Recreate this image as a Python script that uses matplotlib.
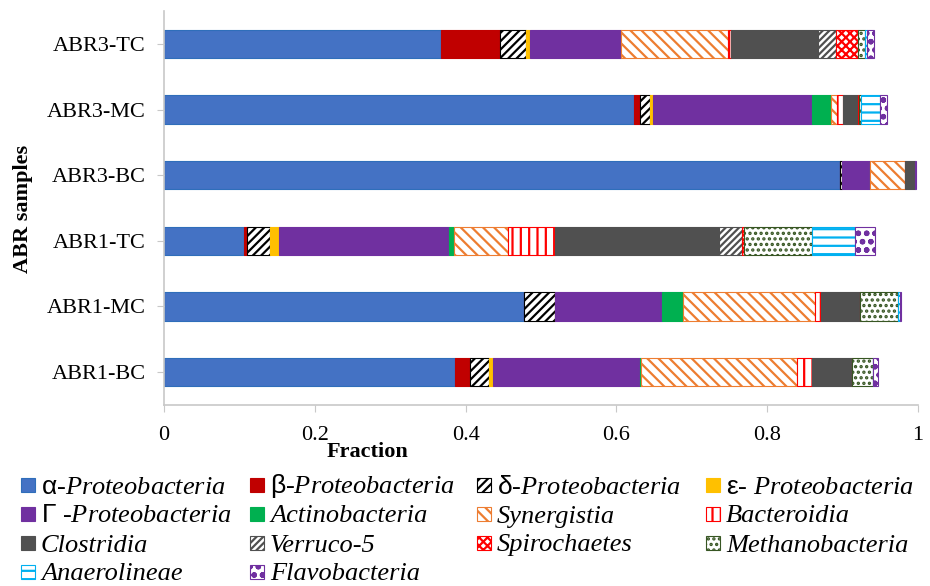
import numpy as np
import matplotlib
matplotlib.use("Agg")
import matplotlib.pyplot as plt
from matplotlib.patches import Rectangle

plt.rcParams['font.family'] = 'Liberation Serif'
plt.rcParams['mathtext.fontset'] = 'custom'
plt.rcParams['mathtext.rm'] = 'Liberation Sans'
plt.rcParams['mathtext.it'] = 'Liberation Serif:italic'
plt.rcParams['hatch.linewidth'] = 1.6

samples = ['ABR1-BC', 'ABR1-MC', 'ABR1-TC', 'ABR3-BC', 'ABR3-MC', 'ABR3-TC']

# greek prefixes are set upright sans via mathtext, the rest italic serif
taxa = [r'$\mathrm{α}$-Proteobacteria', r'$\mathrm{β}$-Proteobacteria',
        r'$\mathrm{δ}$-Proteobacteria', r'$\mathrm{ε}$- Proteobacteria',
        r'$\mathrm{Γ}$ -Proteobacteria', 'Actinobacteria',
        'Synergistia', 'Bacteroidia',
        'Clostridia', 'Verruco-5',
        'Spirochaetes', 'Methanobacteria',
        'Anaerolineae', 'Flavobacteria']

# fraction of each class, same order as taxa
abr1_bc = [0.386, 0.020, 0.025, 0.005, 0.195, 0.002, 0.207, 0.019, 0.053, 0.0, 0.0, 0.028, 0.0, 0.007]
abr1_mc = [0.477, 0.001, 0.040, 0.001, 0.141, 0.028, 0.175, 0.009, 0.051, 0.0, 0.0, 0.051, 0.002, 0.001]
abr1_tc = [0.106, 0.004, 0.031, 0.011, 0.226, 0.007, 0.071, 0.063, 0.217, 0.031, 0.002, 0.091, 0.056, 0.027]
abr3_bc = [0.896, 0.0, 0.003, 0.0, 0.037, 0.001, 0.046, 0.0, 0.013, 0.0, 0.0, 0.0, 0.0, 0.002]
abr3_mc = [0.623, 0.008, 0.013, 0.005, 0.210, 0.025, 0.009, 0.007, 0.021, 0.0, 0.001, 0.003, 0.025, 0.009]
abr3_tc = [0.367, 0.079, 0.034, 0.006, 0.120, 0.0, 0.142, 0.004, 0.116, 0.023, 0.030, 0.009, 0.003, 0.009]

data = np.array([abr1_bc, abr1_mc, abr1_tc, abr3_bc, abr3_mc, abr3_tc])

# (face, edge/hatch colour, hatch)
styles = [('#4472C4', '#2F6EBA', None),
          ('#C00000', '#C00000', None),
          ('white', 'black', '////'),
          ('#FFC000', '#FFC000', None),
          ('#7030A0', '#7030A0', None),
          ('#00B050', '#00B050', None),
          ('white', '#ED7D31', '\\\\\\'),
          ('white', '#FF0000', '||'),
          ('#505050', '#505050', None),
          ('white', '#505050', '/////'),
          ('white', '#FF0000', 'xxxx'),
          ('white', '#375623', '...'),
          ('white', '#00B0F0', '--'),
          ('white', '#7030A0', 'oo')]

W, H = 930, 586
fig = plt.figure(figsize=(9.3, 5.86), dpi=100)
ax = fig.add_axes([0.1763, 0.3089, 0.8108, 0.6723])

y = np.arange(len(samples))
left = np.zeros(len(samples))
for i, (fc, ec, hatch) in enumerate(styles):
    ax.barh(y, data[:, i], left=left, height=0.43, color=fc,
            edgecolor=ec, hatch=hatch, linewidth=0.8, label=taxa[i])
    left += data[:, i]

ax.set_xlim(0, 1)
ax.set_ylim(-0.5, 5.5)
ax.set_yticks(y)
ax.set_yticklabels(samples, fontsize=16)
ax.set_xticks([0, 0.2, 0.4, 0.6, 0.8, 1.0])
ax.set_xticklabels(['0', '0.2', '0.4', '0.6', '0.8', '1'], fontsize=16)
for s in ['top', 'right']:
    ax.spines[s].set_visible(False)
for s in ['left', 'bottom']:
    ax.spines[s].set_color('#C8C8C8')
    ax.spines[s].set_linewidth(1.2)
ax.tick_params(axis='y', length=5, color='#C8C8C8', pad=8)
ax.tick_params(axis='x', length=5, color='#C8C8C8', pad=10)

fig.text(367 / W, 1 - 452 / H, 'Fraction', fontsize=16, fontweight='bold',
         ha='center', va='center')
fig.text(23 / W, 1 - 209 / H, 'ABR samples', fontsize=16, fontweight='bold',
         rotation=90, ha='center', va='center')

# legend grid, read row by row: 4 columns at fixed pixel positions
col_x = [21, 250, 477, 706]
row_y = [485, 514, 543, 572]
box = 14
for k, (fc, ec, hatch) in enumerate(styles):
    cx = col_x[k % 4]
    cy = row_y[k // 4]
    fig.add_artist(Rectangle((cx / W, 1 - (cy + box / 2) / H), box / W, box / H,
                             transform=fig.transFigure, facecolor=fc,
                             edgecolor=ec, hatch=hatch, linewidth=0.8))
    fig.text((cx + box + 6) / W, 1 - (cy + 8.5) / H, taxa[k], fontsize=19,
             fontstyle='italic', ha='left', va='baseline')

fig.savefig('out.png', dpi=100)
